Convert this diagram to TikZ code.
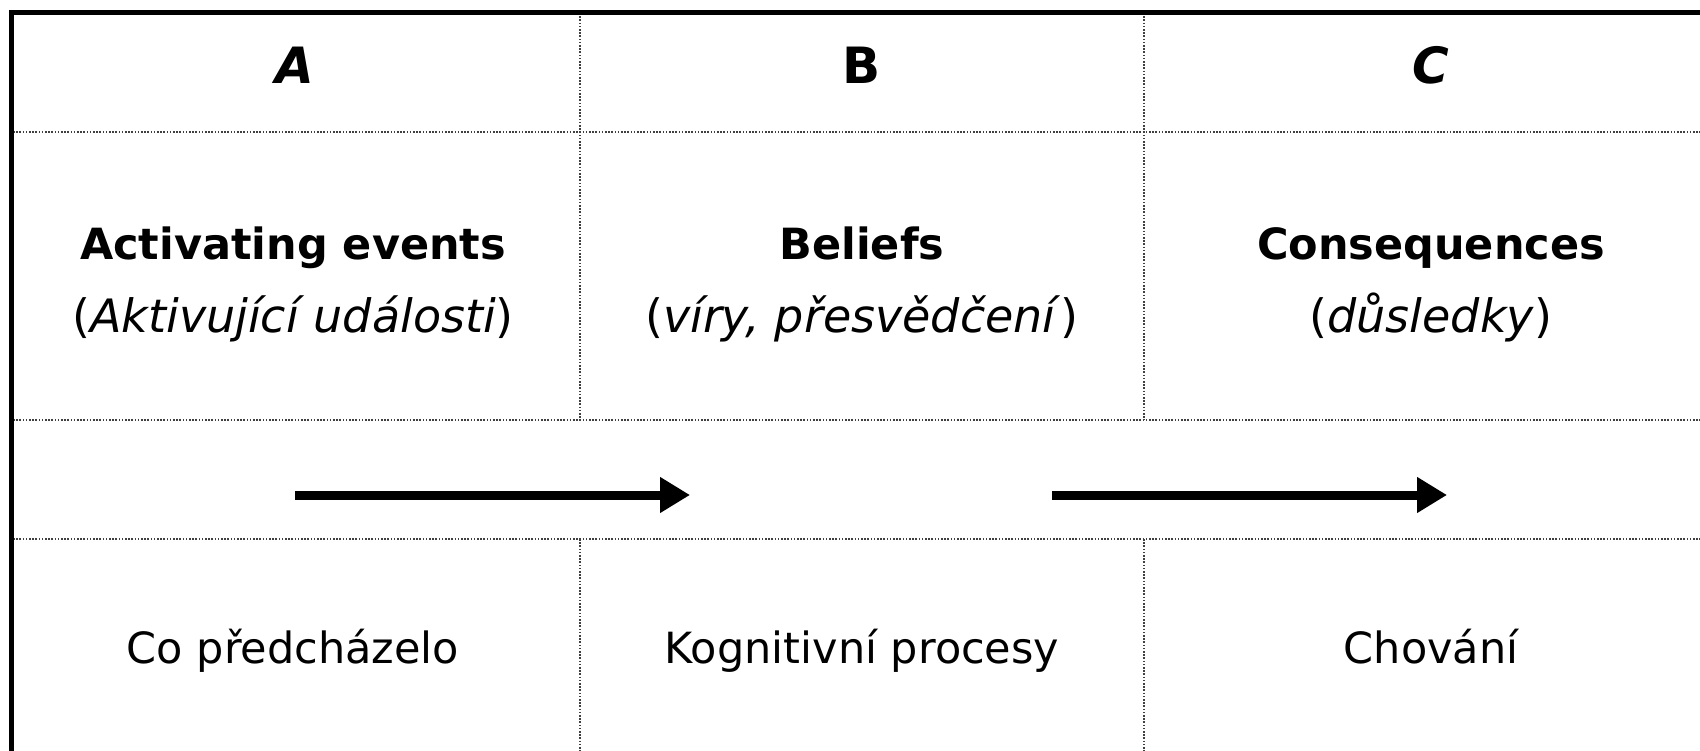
\documentclass[tikz,border=0pt]{standalone}
\usepackage{fontspec}
\setmainfont{DejaVu Sans}
\usetikzlibrary{arrows.meta}
\tikzset{
  frame/.style={line width=5pt, black},
  grid/.style={line width=1.6pt, black!75, dash pattern=on 1.6pt off 1.6pt},
  head/.style={font=\fontsize{50}{60}\selectfont\bfseries, anchor=base},
  title/.style={font=\fontsize{43}{52}\selectfont\bfseries, anchor=base},
  sub/.style={font=\fontsize{46}{52}\selectfont, anchor=base},
  plain/.style={font=\fontsize{43}{54}\selectfont, anchor=base},
  flow/.style={line width=9pt, -{Triangle[length=30pt,width=34pt]}}
}
\begin{document}
\begin{tikzpicture}[x=1pt,y=-1pt]
\useasboundingbox (0,0) rectangle (1700,751);
% grid lines
\coordinate (hl1) at (13,132); \coordinate (hr1) at (1700,132);
\coordinate (hl2) at (13,420); \coordinate (hr2) at (1700,420);
\coordinate (hl3) at (13,539); \coordinate (hr3) at (1700,539);
\coordinate (v1t) at (580,13); \coordinate (v1m) at (580,420);
\coordinate (v1b) at (580,539); \coordinate (v1e) at (580,751);
\coordinate (v2t) at (1144,13); \coordinate (v2m) at (1144,420);
\coordinate (v2b) at (1144,539); \coordinate (v2e) at (1144,751);
\draw[grid] (hl1) -- (hr1);
\draw[grid] (hl2) -- (hr2);
\draw[grid] (hl3) -- (hr3);
\draw[grid] (v1t) -- (v1m);
\draw[grid] (v1b) -- (v1e);
\draw[grid] (v2t) -- (v2m);
\draw[grid] (v2b) -- (v2e);
% frame
\coordinate (fbl) at (11,751); \coordinate (ftl) at (11,13); \coordinate (ftr) at (1700,13);
\draw[frame] (fbl) -- (ftl) -- (ftr);
% headers
\node[head] (hA) at (295,84) {\itshape A};
\node[head] (hB) at (862,84) {B};
\node[head] (hC) at (1431,84) {\itshape C};
% titles
\node[title] (tA) at (293,260) {Activating events};
\node[sub] (sA) at (293,333) {(\textit{Aktivující události})};
\node[title] (tB) at (862,260) {Beliefs};
\node[sub] (sB) at (862,333) {(\textit{víry, přesvědčení})};
\node[title] (tC) at (1431,260) {Consequences};
\node[sub] (sC) at (1431,333) {(\textit{důsledky})};
% bottom row
\node[plain] (bA) at (293,663) {Co předcházelo};
\node[plain] (bB) at (862,663) {Kognitivní procesy};
\node[plain] (bC) at (1431,663) {Chování};
% arrows
\coordinate (a1s) at (295,495); \coordinate (a1e) at (690,495);
\coordinate (a2s) at (1052,495); \coordinate (a2e) at (1447,495);
\draw[flow] (a1s) -- (a1e);
\draw[flow] (a2s) -- (a2e);
\end{tikzpicture}
\end{document}
